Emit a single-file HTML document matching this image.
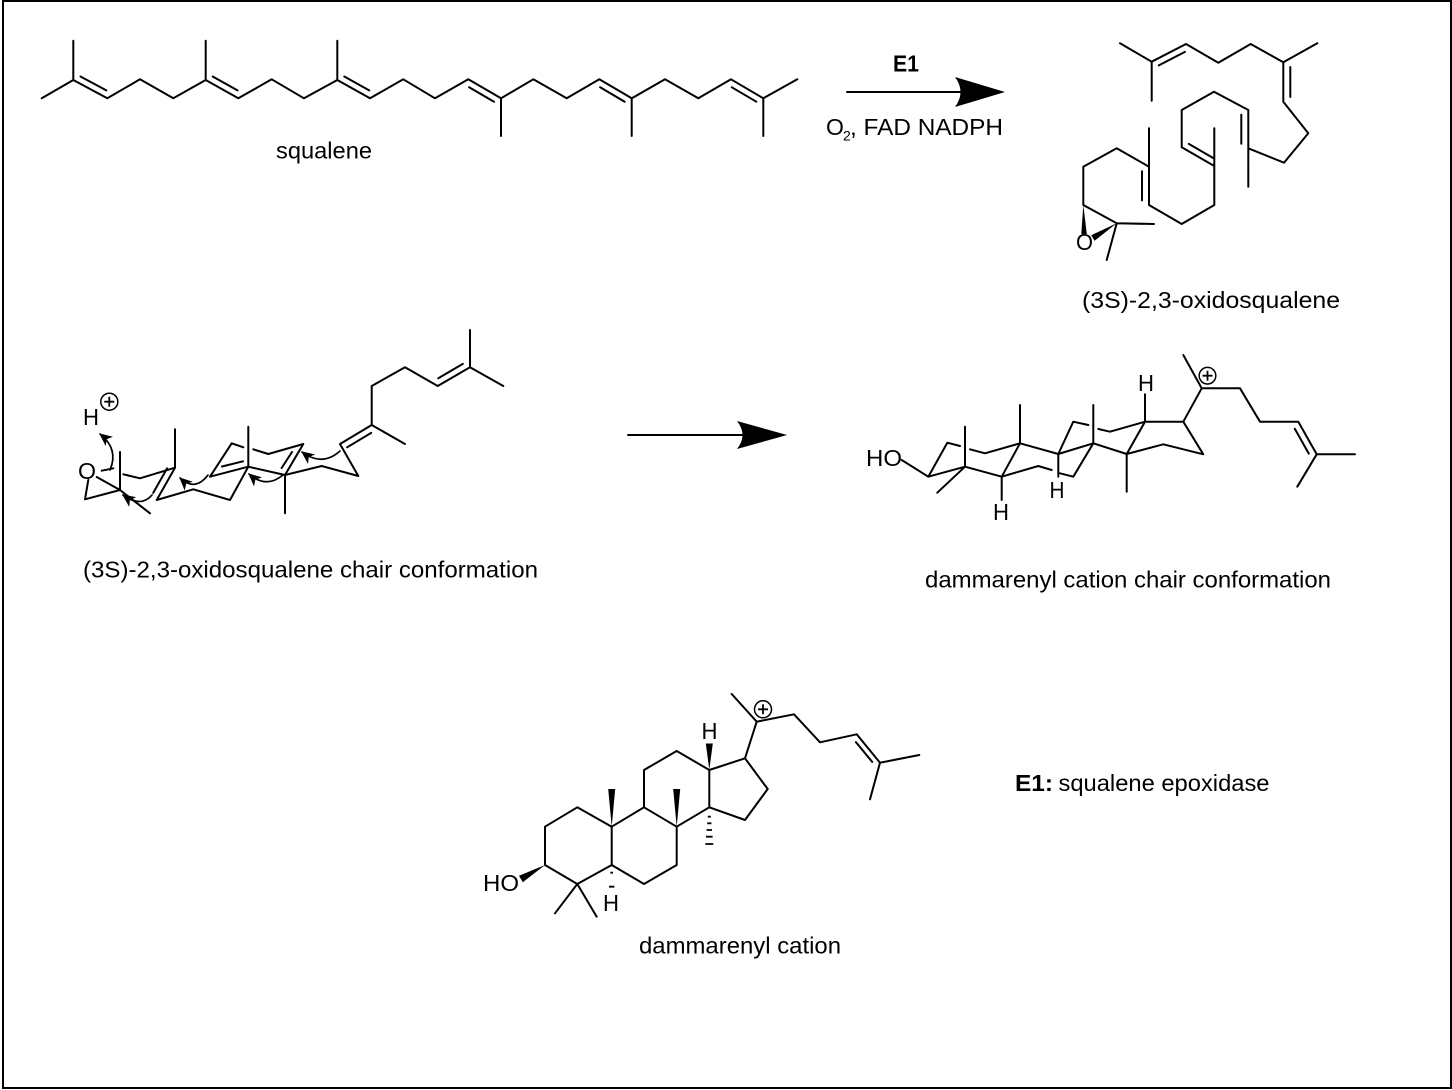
<!DOCTYPE html>
<html>
<head>
<meta charset="utf-8">
<style>
  html, body { margin: 0; padding: 0; background: #fff; }
  body { width: 1452px; height: 1090px; overflow: hidden; }
  svg { display: block; }
  text { font-family: "Liberation Sans", Arial, sans-serif; font-size: 23px; fill: #000; }
</style>
</head>
<body>
<svg width="1452" height="1090" viewBox="0 0 1452 1090" xmlns="http://www.w3.org/2000/svg">
  <defs>
    <marker id="ah" markerUnits="userSpaceOnUse" markerWidth="14" markerHeight="12" refX="12" refY="6" orient="auto">
      <path d="M0,0 L13,6 L0,12 L3.5,6 Z" fill="#000"/>
    </marker>
  </defs>
  <rect x="0" y="0" width="1452" height="1090" fill="#fff"/>
  <rect x="3" y="1" width="1448" height="1087" fill="none" stroke="#000" stroke-width="2"/>

  <g fill="none" stroke="#000" stroke-width="2" stroke-linecap="round" stroke-linejoin="round">
    <!-- squalene -->
    <path d="M41.7,98.3 L73.3,80 L107.3,98.3 L140,79.3 L173.3,98.3 L205.7,80 L238.3,98.3 L271.7,79.3 L304,98.3 L337.3,80 L370,98.3 L403.3,79.3 L435,98.3 L468.3,79.3 L501,98.3 L533.3,79.3 L566.7,98.3 L599.3,79.3 L631.7,98.3 L665,79.3 L698.3,98.3 L731,79.3 L763.3,98.3 L797.3,79.3
      M73.3,80 V40.7 M205.7,80 V40.7 M337.3,80 V40.7 M501,98.3 V136 M631.7,98.3 V136 M763.3,98.3 V136
      M80.5,76.5 L106.3,90.4 M212.7,76.5 L237.5,90.4 M344.3,76.5 L369.2,90.4
      M469.1,87.3 L494,101.7 M600.1,87.3 L624.7,101.7 M731.8,87.3 L756.3,101.7"/>

    <!-- reaction arrow 1 -->
    <path d="M847,92 H962"/>
    <!-- reaction arrow 2 -->
    <path d="M628,435 H745"/>

    <!-- oxidosqualene -->
    <path d="M1120,43.3 L1151.7,61.7 L1186,44 L1218.3,62.7 L1250.7,44 L1283.3,62.3 L1317.3,43.3
      M1151.7,61.7 V100.7
      M1283.3,62.3 V101.7 L1308.3,133.3 L1284,162.7 L1248.3,148.3 V110 L1214,91.7 L1181.7,110 V147.3 L1214.3,166 V205 L1181.7,224 L1149,205 V166.7 L1116.7,148.3 L1083.3,166.7 V205 L1116.7,223.3 L1154,224
      M1248.3,148.3 V186.7
      M1214.3,166 V128.3
      M1149,166.7 V128.3
      M1116.7,223.3 L1106.7,260
      M1158.8,65.4 L1184.9,51.9
      M1290.3,67 V97
      M1241.3,114.6 V143.7
      M1188.8,143.9 L1213.6,158.2
      M1142,171.3 V200.4"/>

    <!-- oxidosqualene chair conformation -->
    <path d="M88.3,480 L85,499.3 L120,490 L96.7,477
      M120,490 L150,513.3
      M120,490 V452
      M101.7,470.7 L113.3,468.3
      M123.3,474.3 L140,478.3 L175,467.7 L156.7,500 L193.3,489.3 L230,500 L248.3,466.7 L285,475 L321.7,466 L358.3,476 L340,444 L371.7,425 L405,444
      M175,467.7 V429.3
      M248.3,466.7 V426.7
      M210,476.7 L248.3,466.7
      M210,476.7 L231.7,443.3 L243.3,447.3
      M253.3,449.3 L268.3,454 L303.3,444 L285,475
      M285,475 V513.3
      M371.7,425 V386 L405,367.3 L437.7,386 L470,367.3 L503.3,386
      M470,367.3 V330
      M167.1,468.4 L153.2,492.9
      M222,466.5 L243,461.3
      M281.6,468 L292,452
      M347.1,447.3 L371.2,432.9
      M438.3,378.2 L462.8,363.9"/>

    <!-- curved electron arrows -->
    <g stroke-width="1.7" marker-end="url(#ah)">
      <path d="M110,470 Q119,449 100,434"/>
      <path d="M152,495 Q141,508 123,495"/>
      <path d="M208,475 Q195,492 180,478"/>
      <path d="M283,475 Q266,489 249,474"/>
      <path d="M340,451 Q322,467 302,452"/>
    </g>

    <!-- dammarenyl cation chair conformation -->
    <path d="M901.7,460 L928.3,476.7 L947.3,442.7 L960,446
      M970,449.3 L985,453.3 L1020,443.3 V405
      M928.3,476.7 L965,466.7 V426.7
      M965,466.7 L937.3,492.7
      M965,466.7 L1001.7,476.7 L1020,443.3 L1058.3,454 V476.7
      M1001.7,476.7 V500
      M1001.7,476.7 L1038.3,466 L1051.7,470
      M1058.3,454 L1073.3,421.7 L1088.3,425
      M1058.3,454 L1093.3,443.3 V405
      M1093.3,443.3 L1073.3,476.7 L1060,473.3
      M1098.3,429 L1110,431.7 L1145,421.7 V394.3
      M1093.3,443.3 L1126.7,454 V491.7
      M1126.7,454 L1145,421.7 L1183.3,421.7 L1203.3,454.3 L1163.3,444.3 L1126.7,454
      M1183.3,421.7 L1201.7,388.3 L1183.3,355
      M1201.7,388.3 L1240,388.3 L1260,421.7 L1298.3,421.7 L1316.7,454.3 L1355,454.3
      M1316.7,454.3 L1297.3,486.7
      M1294.8,428.8 L1308.8,453.6"/>

    <!-- dammarenyl cation -->
    <path d="M545,865 V826.7 L577.3,807.3 L611.7,826.7 V865 L577.3,884 Z
      M577.3,884 L555,913.3 M577.3,884 L596.7,916.7
      M611.7,826.7 L644,807.3 L676.7,826.7 V865 L644,884 L611.7,865
      M644,807.3 V770 L676.7,751 L709.3,770 V807.3 L676.7,826.7
      M709.3,770 L745,758.3 L767.7,789 L745,820 L709.3,807.3
      M745,758.3 L756.7,721.7 L731.7,694
      M756.7,721.7 L794,714.3 L820,742.3 L856.7,734.3 L880,762.7 L919.3,755
      M880,762.7 L870,799.3
      M855.9,742.1 L872.2,761.9"/>
    <!-- hashed bonds -->
    <g stroke-width="1.8" stroke-linecap="butt">
      <path d="M707.8,816.7 h3 M707.2,823.3 h4.2 M706.6,830 h5.4 M706,836.7 h6.6 M705.3,844 h8"/>
      <path d="M610.4,872.7 h2.6 M609,886.7 h5.4"/>
    </g>
  </g>

  <!-- filled arrowheads and wedges -->
  <g fill="#000" stroke="none">
    <path d="M1005,92 L955,77 Q966,92 955,107 Z"/>
    <path d="M787,435 L737,421 Q748,435 737,449 Z"/>
    <!-- oxidosqualene epoxide wedges -->
    <path d="M1083.3,205 L1081.3,234 L1086.8,234 Z"/>
    <path d="M1116.7,223.3 L1094.6,240.8 L1091.2,235.2 Z"/>
    <!-- dammarenyl wedges -->
    <path d="M545,865 L522.8,882.3 L519,875.7 Z"/>
    <path d="M611.7,826.7 L608.2,789 L615.2,789 Z"/>
    <path d="M676.7,826.7 L673.2,789 L680.2,789 Z"/>
    <path d="M709.3,770 L705.8,743.5 L712.8,743.5 Z"/>
  </g>

  <!-- charges -->
  <g fill="none" stroke="#000" stroke-width="1.5">
    <circle cx="109.3" cy="401.7" r="8.5"/>
    <path d="M104.3,401.7 h10 M109.3,396.7 v10" stroke-width="1.8"/>
    <circle cx="1207.5" cy="375.7" r="8.3"/>
    <path d="M1202.5,375.7 h10 M1207.5,370.7 v10" stroke-width="1.8"/>
    <circle cx="763" cy="709.3" r="8.5"/>
    <path d="M758,709.3 h10 M763,704.3 v10" stroke-width="1.8"/>
  </g>

  <!-- labels -->
  <text x="276" y="158.5" textLength="96" lengthAdjust="spacingAndGlyphs">squalene</text>
  <text x="893" y="71.5" font-weight="bold" textLength="26" lengthAdjust="spacingAndGlyphs">E1</text>
  <text x="826" y="135">O</text>
  <text x="843" y="140.5" style="font-size:14px">2</text>
  <text x="850" y="135" textLength="153" lengthAdjust="spacingAndGlyphs">, FAD NADPH</text>
  <text x="1082" y="308" textLength="258" lengthAdjust="spacingAndGlyphs">(3S)-2,3-oxidosqualene</text>
  <text x="83" y="577.5" textLength="455" lengthAdjust="spacingAndGlyphs">(3S)-2,3-oxidosqualene chair conformation</text>
  <text x="925" y="587.5" textLength="406" lengthAdjust="spacingAndGlyphs">dammarenyl cation chair conformation</text>
  <text x="639" y="953.5" textLength="202" lengthAdjust="spacingAndGlyphs">dammarenyl cation</text>
  <text x="1015" y="791" font-weight="bold" textLength="38" lengthAdjust="spacingAndGlyphs">E1:</text>
  <text x="1058.5" y="791" textLength="211" lengthAdjust="spacingAndGlyphs">squalene epoxidase</text>

  <!-- atom labels -->
  <text x="1076" y="250" textLength="17" lengthAdjust="spacingAndGlyphs">O</text>
  <text x="83" y="425" textLength="16" lengthAdjust="spacingAndGlyphs">H</text>
  <text x="78" y="479" textLength="18" lengthAdjust="spacingAndGlyphs">O</text>
  <text x="866" y="466" textLength="36" lengthAdjust="spacingAndGlyphs">HO</text>
  <text x="993" y="520" textLength="16" lengthAdjust="spacingAndGlyphs">H</text>
  <text x="1049.5" y="498" textLength="15" lengthAdjust="spacingAndGlyphs">H</text>
  <text x="1138" y="391" textLength="16" lengthAdjust="spacingAndGlyphs">H</text>
  <text x="483" y="891" textLength="36" lengthAdjust="spacingAndGlyphs">HO</text>
  <text x="603" y="911" textLength="16" lengthAdjust="spacingAndGlyphs">H</text>
  <text x="701.5" y="739" textLength="16" lengthAdjust="spacingAndGlyphs">H</text>
</svg>
</body>
</html>
